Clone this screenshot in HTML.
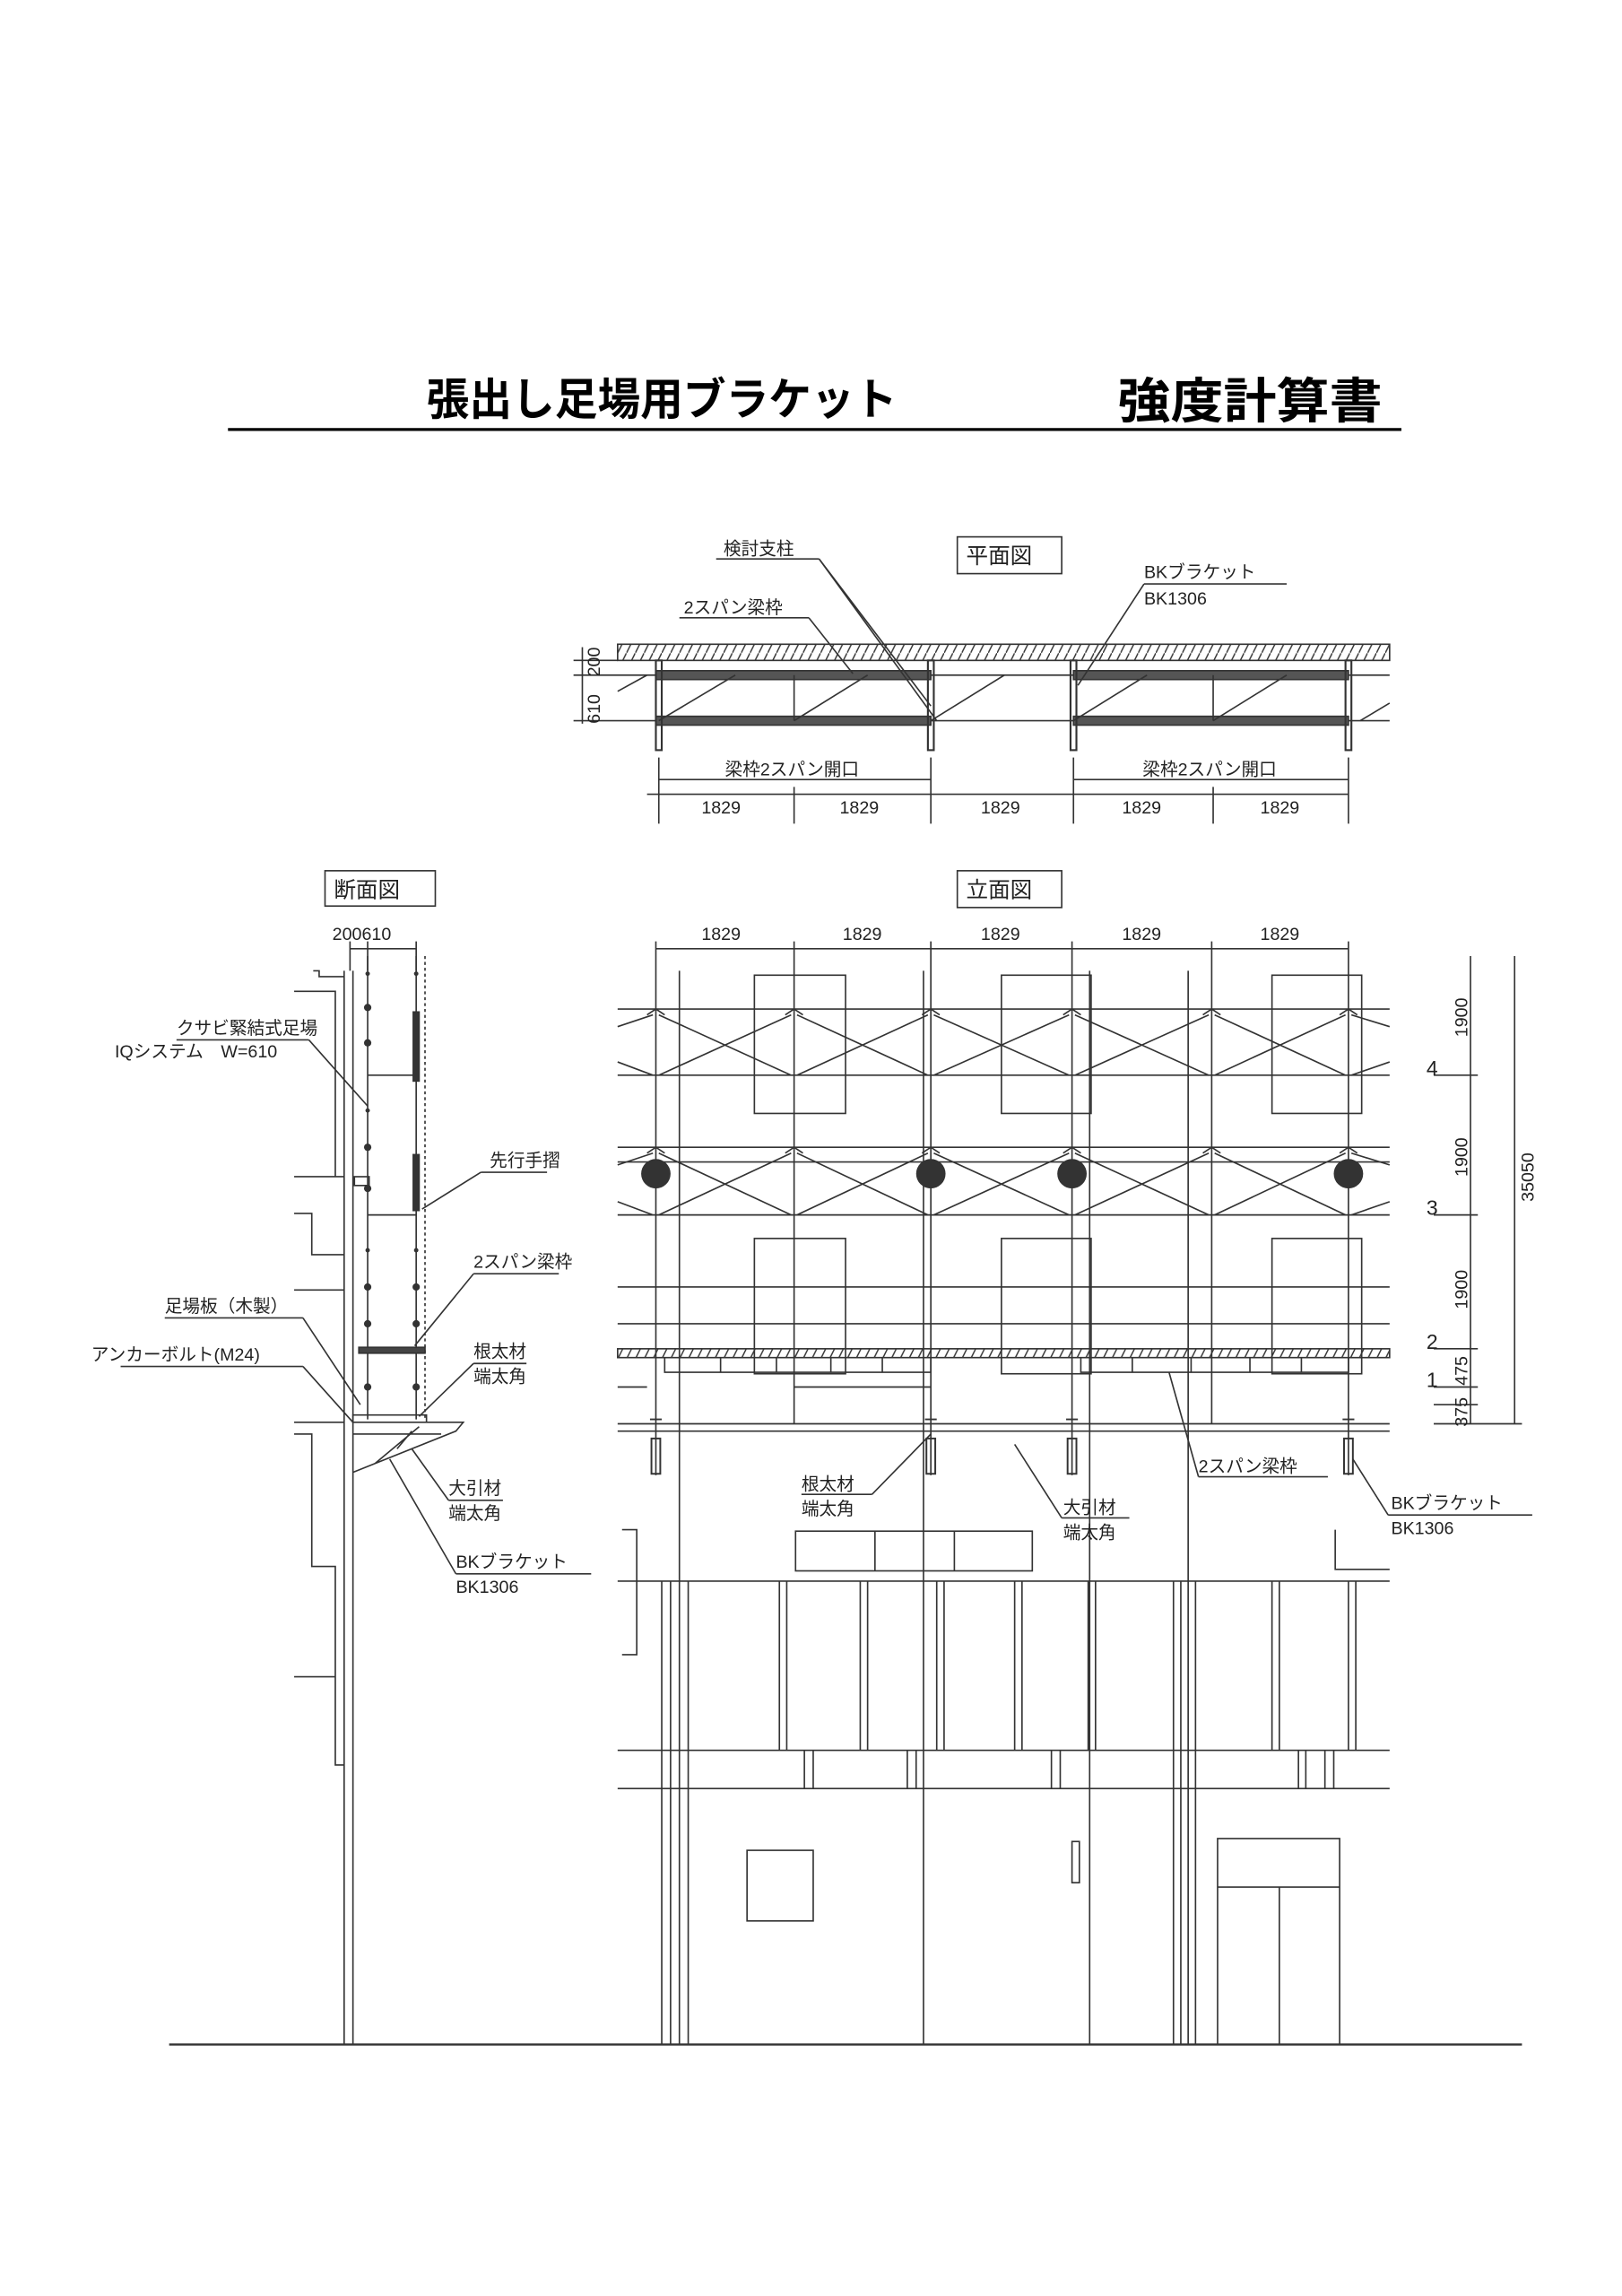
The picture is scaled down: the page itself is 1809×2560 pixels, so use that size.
<!DOCTYPE html>
<html><head><meta charset="utf-8"><style>
html,body{margin:0;padding:0;background:#fff;}
svg{display:block;}
text{font-family:"Liberation Sans","Noto Sans CJK JP",sans-serif;fill:#222;}
</style></head><body>
<svg width="1809" height="2560" viewBox="0 0 1103 1561" xmlns="http://www.w3.org/2000/svg">
<defs>
<pattern id="hatch" width="6" height="12" patternUnits="userSpaceOnUse">
<line x1="0" y1="12" x2="6" y2="0" stroke="#333" stroke-width="0.9"/>
</pattern>
</defs>
<text x="290" y="282" font-size="30" font-weight="bold" textLength="320" lengthAdjust="spacingAndGlyphs" style="fill:#000">張出し足場用ブラケット</text>
<text x="760" y="284" font-size="33" font-weight="bold" textLength="180" lengthAdjust="spacingAndGlyphs" style="fill:#000">強度計算書</text>
<line x1="155" y1="292" x2="953" y2="292" stroke="#000" stroke-width="2"/>

<g stroke="#333" stroke-width="1" fill="none">
<rect x="651" y="365" width="71" height="25"/>
<rect x="420" y="438" width="525" height="11" fill="url(#hatch)"/>
<line x1="390" y1="449" x2="420" y2="449"/>
<line x1="390" y1="459" x2="945" y2="459"/>
<line x1="390" y1="490" x2="945" y2="490"/>
<line x1="396" y1="440" x2="396" y2="492"/>
<rect x="446" y="456" width="187" height="6" fill="#555"/>
<rect x="446" y="487" width="187" height="6" fill="#555"/>
<rect x="730" y="456" width="187" height="6" fill="#555"/>
<rect x="730" y="487" width="187" height="6" fill="#555"/>
<g stroke-width="1.3">
<rect x="446" y="449" width="4" height="61"/><rect x="631" y="449" width="4" height="61"/>
<rect x="728" y="449" width="4" height="61"/><rect x="915" y="449" width="4" height="61"/>
</g>
<line x1="540" y1="459" x2="540" y2="490"/><line x1="825" y1="459" x2="825" y2="490"/>
<line x1="448" y1="490" x2="500" y2="459"/><line x1="540" y1="490" x2="590" y2="459"/>
<line x1="730" y1="490" x2="780" y2="459"/><line x1="825" y1="490" x2="875" y2="459"/>
<line x1="633" y1="490" x2="683" y2="459"/>
<line x1="420" y1="470" x2="440" y2="459"/><line x1="925" y1="490" x2="945" y2="478"/>
<line x1="487" y1="380" x2="557" y2="380"/>
<line x1="557" y1="380" x2="633" y2="480"/><line x1="557" y1="380" x2="637" y2="490"/>
<line x1="462" y1="420" x2="550" y2="420"/><line x1="550" y1="420" x2="580" y2="458"/>
<line x1="778" y1="397" x2="875" y2="397"/><line x1="778" y1="397" x2="733" y2="466"/>
<line x1="448" y1="515" x2="448" y2="560"/><line x1="633" y1="515" x2="633" y2="560"/>
<line x1="730" y1="515" x2="730" y2="560"/><line x1="917" y1="515" x2="917" y2="560"/>
<line x1="540" y1="535" x2="540" y2="560"/><line x1="825" y1="535" x2="825" y2="560"/>
<line x1="448" y1="530" x2="633" y2="530"/><line x1="730" y1="530" x2="917" y2="530"/>
<line x1="440" y1="540" x2="917" y2="540"/>

<rect x="651" y="592" width="71" height="25"/>
<line x1="446" y1="645" x2="917" y2="645"/>
<g>
<line x1="446" y1="640" x2="446" y2="1003"/><line x1="540" y1="640" x2="540" y2="968"/>
<line x1="633" y1="640" x2="633" y2="1003"/><line x1="729" y1="640" x2="729" y2="1003"/>
<line x1="824" y1="640" x2="824" y2="968"/><line x1="917" y1="640" x2="917" y2="1003"/>
<line x1="462" y1="660" x2="462" y2="1390"/><line x1="628" y1="660" x2="628" y2="1390"/>
<line x1="741" y1="660" x2="741" y2="1390"/><line x1="808" y1="660" x2="808" y2="1390"/>
</g>
<g>
<line x1="420" y1="686" x2="945" y2="686"/><line x1="420" y1="731" x2="945" y2="731"/>
<line x1="420" y1="780" x2="945" y2="780"/><line x1="420" y1="790" x2="945" y2="790"/>
<line x1="420" y1="826" x2="945" y2="826"/>
<line x1="420" y1="875" x2="945" y2="875"/><line x1="420" y1="900" x2="945" y2="900"/>
<line x1="420" y1="943" x2="440" y2="943"/><line x1="540" y1="943" x2="633" y2="943"/>
<line x1="420" y1="968" x2="945" y2="968"/><line x1="420" y1="973" x2="945" y2="973"/>
</g>
<rect x="420" y="917" width="525" height="6" fill="url(#hatch)"/>
<!-- bracing: X per bay -->
<path d="M420,698 L444,690 M448,690 L538,731 M542,690 L631,731 M635,690 L727,731 M731,690 L822,731 M826,690 L915,731 M919,690 L945,698"/>
<path d="M420,722 L444,731 M448,731 L538,690 M542,731 L631,690 M635,731 L727,690 M731,731 L822,690 M826,731 L915,690 M919,731 L945,722"/>
<path d="M420,792 L444,784 M448,784 L538,826 M542,784 L631,826 M635,784 L727,826 M731,784 L822,826 M826,784 L915,826 M919,784 L945,792"/>
<path d="M420,817 L444,826 M448,826 L538,784 M542,826 L631,784 M635,826 L727,784 M731,826 L822,784 M826,826 L915,784 M919,826 L945,817"/>
<path d="M440,690l6,-4l6,4M534,690l6,-4l6,4M627,690l6,-4l6,4M723,690l6,-4l6,4M818,690l6,-4l6,4M911,690l6,-4l6,4"/>
<path d="M440,784l6,-4l6,4M534,784l6,-4l6,4M627,784l6,-4l6,4M723,784l6,-4l6,4M818,784l6,-4l6,4M911,784l6,-4l6,4"/>
<rect x="513" y="663" width="62" height="94"/><rect x="681" y="663" width="61" height="94"/><rect x="865" y="663" width="61" height="94"/>
<rect x="513" y="842" width="62" height="92"/><rect x="681" y="842" width="61" height="92"/><rect x="865" y="842" width="61" height="92"/>
<path d="M452,923 V933 H633 V923 M490,923V933 M528,923V933 M565,923V933 M600,923V933"/>
<path d="M735,923 V933 H917 V923 M770,923V933 M810,923V933 M850,923V933 M885,923V933"/>
<g stroke-width="1.2">
<rect x="443" y="978" width="6" height="24"/><rect x="630" y="978" width="6" height="24"/>
<rect x="726" y="978" width="6" height="24"/><rect x="914" y="978" width="6" height="24"/>
<path d="M442,965h8M629,965h8M725,965h8M913,965h8"/>
</g>
<line x1="1000" y1="650" x2="1000" y2="968"/>
<line x1="1030" y1="650" x2="1030" y2="968"/>
<path d="M975,731h30M975,826h30M975,917h30M975,943h30M975,955h30M975,968h60"/>
<line x1="545" y1="1016" x2="593" y2="1016"/><line x1="593" y1="1016" x2="633" y2="975"/>
<line x1="722" y1="1032" x2="768" y2="1032"/><line x1="722" y1="1032" x2="690" y2="982"/>
<line x1="815" y1="1004" x2="903" y2="1004"/><line x1="815" y1="1004" x2="795" y2="933"/>
<line x1="944" y1="1030" x2="1042" y2="1030"/><line x1="944" y1="1030" x2="920" y2="992"/>
<rect x="541" y="1041" width="161" height="27"/>
<line x1="595" y1="1041" x2="595" y2="1068"/><line x1="649" y1="1041" x2="649" y2="1068"/>
<path d="M423,1040h10v85h-10"/>
<path d="M908,1040v27h37"/>
<line x1="420" y1="1075" x2="945" y2="1075"/>
<line x1="420" y1="1190" x2="945" y2="1190"/>
<line x1="420" y1="1216" x2="945" y2="1216"/>
<line x1="450" y1="1075" x2="450" y2="1390"/><line x1="456" y1="1075" x2="456" y2="1390"/><line x1="468" y1="1075" x2="468" y2="1390"/>
<line x1="798" y1="1075" x2="798" y2="1390"/><line x1="803" y1="1075" x2="803" y2="1390"/><line x1="813" y1="1075" x2="813" y2="1390"/>
<path d="M530,1075V1190M535,1075V1190M585,1075V1190M590,1075V1190M637,1075V1190M642,1075V1190M690,1075V1190M695,1075V1190M740,1075V1190M745,1075V1190M865,1075V1190M870,1075V1190M917,1075V1190M922,1075V1190"/>
<path d="M901,1216V1190M907,1216V1190M547,1216V1190M553,1216V1190M617,1216V1190M623,1216V1190M715,1216V1190M721,1216V1190M883,1216V1190M888,1216V1190"/>
<rect x="508" y="1258" width="45" height="48"/>
<rect x="729" y="1252" width="5" height="28"/>
<path d="M828,1390V1250H911V1390M828,1283H911M870,1283V1390"/>
<line x1="115" y1="1390" x2="1035" y2="1390" stroke-width="1.4"/>

<rect x="221" y="592" width="75" height="24"/>
<line x1="238" y1="645" x2="283" y2="645"/>
<path d="M238,640v20M250,640v20M283,640v20"/>
<line x1="234" y1="660" x2="234" y2="1390"/><line x1="240" y1="660" x2="240" y2="1390"/>
<path d="M213,660h4v4h17M200,674h28V800M200,800h34M200,825h12v28h22M200,877h34M200,967h34M200,975h12v90h16v135M200,1140h28M228,1150v50h6"/>
<line x1="250" y1="650" x2="250" y2="965"/><line x1="283" y1="650" x2="283" y2="965"/>
<line x1="289" y1="650" x2="289" y2="965" stroke-dasharray="2,2"/>
<path d="M250,731h33M250,826h33"/>
<rect x="281" y="688" width="4" height="47" fill="#333"/>
<rect x="281" y="785" width="4" height="38" fill="#333"/>
<rect x="244" y="916" width="45" height="4" fill="#444"/>
<path d="M240,962h50v5h-50zM240,967h75l-5,6l-70,28M240,975l60,0M255,995l30-25M270,985l10-12"/>
<rect x="241" y="800" width="10" height="6"/>
<line x1="120" y1="707" x2="210" y2="707"/><line x1="210" y1="707" x2="250" y2="752"/>
<line x1="327" y1="797" x2="372" y2="797"/><line x1="327" y1="797" x2="287" y2="822"/>
<line x1="322" y1="866" x2="380" y2="866"/><line x1="322" y1="866" x2="282" y2="915"/>
<line x1="112" y1="896" x2="206" y2="896"/><line x1="206" y1="896" x2="245" y2="955"/>
<line x1="82" y1="929" x2="206" y2="929"/><line x1="206" y1="929" x2="240" y2="967"/>
<line x1="322" y1="927" x2="358" y2="927"/><line x1="322" y1="927" x2="285" y2="963"/>
<line x1="305" y1="1020" x2="342" y2="1020"/><line x1="305" y1="1020" x2="280" y2="985"/>
<line x1="310" y1="1070" x2="402" y2="1070"/><line x1="310" y1="1070" x2="265" y2="992"/>
</g>
<g fill="#333">
<circle cx="446" cy="798" r="10"/><circle cx="633" cy="798" r="10"/><circle cx="729" cy="798" r="10"/><circle cx="917" cy="798" r="10"/>
<circle cx="250" cy="685" r="2.5"/><circle cx="250" cy="709" r="2.5"/><circle cx="250" cy="780" r="2.5"/><circle cx="250" cy="808" r="2.5"/>
<circle cx="250" cy="875" r="2.5"/><circle cx="250" cy="900" r="2.5"/><circle cx="250" cy="943" r="2.5"/>
<circle cx="283" cy="875" r="2.5"/><circle cx="283" cy="900" r="2.5"/><circle cx="283" cy="943" r="2.5"/>
<circle cx="283" cy="662" r="1.5"/><circle cx="250" cy="662" r="1.5"/><circle cx="250" cy="755" r="1.5"/><circle cx="250" cy="850" r="1.5"/><circle cx="283" cy="850" r="1.5"/>
</g>
<g font-size="12">
<text x="492" y="377">検討支柱</text>
<text x="465" y="417">2スパン梁枠</text>
<text x="657" y="383" font-size="15">平面図</text>
<text x="778" y="393">BKブラケット</text>
<text x="778" y="411">BK1306</text>
<text x="408" y="492" transform="rotate(-90 408 492)">610</text>
<text x="408" y="460" transform="rotate(-90 408 460)">200</text>
<text x="493" y="527">梁枠2スパン開口</text>
<text x="777" y="527">梁枠2スパン開口</text>
<text x="477" y="553">1829</text><text x="571" y="553">1829</text><text x="667" y="553">1829</text><text x="763" y="553">1829</text><text x="857" y="553">1829</text>
<text x="657" y="610" font-size="15">立面図</text>
<text x="477" y="639">1829</text><text x="573" y="639">1829</text><text x="667" y="639">1829</text><text x="763" y="639">1829</text><text x="857" y="639">1829</text>
<text x="227" y="610" font-size="15">断面図</text>
<text x="226" y="639">200610</text>
<text x="998" y="705" transform="rotate(-90 998 705)">1900</text>
<text x="998" y="800" transform="rotate(-90 998 800)">1900</text>
<text x="998" y="890" transform="rotate(-90 998 890)">1900</text>
<text x="998" y="942" transform="rotate(-90 998 942)">475</text>
<text x="998" y="970" transform="rotate(-90 998 970)">375</text>
<text x="1043" y="817" transform="rotate(-90 1043 817)">35050</text>
<text x="970" y="731" font-size="14">4</text>
<text x="970" y="826" font-size="14">3</text>
<text x="970" y="917" font-size="14">2</text>
<text x="970" y="943" font-size="14">1</text>
<text x="545" y="1013">根太材</text><text x="545" y="1030">端太角</text>
<text x="723" y="1029">大引材</text><text x="723" y="1046">端太角</text>
<text x="815" y="1001">2スパン梁枠</text>
<text x="946" y="1026">BKブラケット</text><text x="946" y="1043">BK1306</text>
<text x="120" y="703">クサビ緊結式足場</text>
<text x="78" y="719">IQシステム　W=610</text>
<text x="333" y="793">先行手摺</text>
<text x="322" y="862">2スパン梁枠</text>
<text x="112" y="892">足場板（木製）</text>
<text x="62" y="925">アンカーボルト(M24)</text>
<text x="322" y="923">根太材</text><text x="322" y="940">端太角</text>
<text x="305" y="1016">大引材</text><text x="305" y="1033">端太角</text>
<text x="310" y="1066">BKブラケット</text><text x="310" y="1083">BK1306</text>
</g>
</svg>
</body></html>
